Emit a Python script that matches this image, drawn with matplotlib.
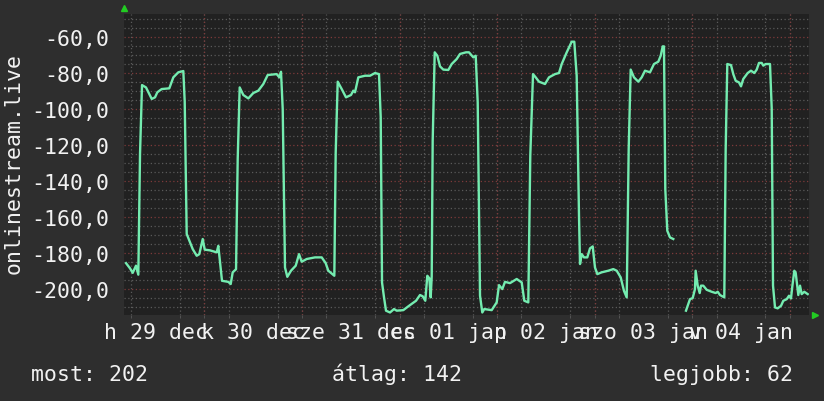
import numpy as np
import matplotlib
matplotlib.use("Agg")
import matplotlib.pyplot as plt
from matplotlib.ticker import MultipleLocator, FixedLocator

# hours since 2014-12-29 00:00, value
hours = [4.75, 5.73, 6.39, 7.2, 7.77, 8.19, 8.68, 9.66, 11.07, 11.88, 12.44, 13.52, 15.39, 16.38,
         17.61, 18.84, 19.18, 19.67, 20.48, 21.15, 22.13, 22.77, 23.61, 24.1, 25.4, 27.05, 27.44,
         27.86, 28.35, 29.9, 30.49, 30.98, 31.8, 32.21, 32.7, 33.59, 34.82, 36.05, 37.28, 38.51,
         39.59, 41.8, 42.44, 42.86, 43.28, 43.84, 44.41, 45.32, 46.48, 47.29, 47.95, 49.18, 51.22,
         52.87, 53.85, 54.49, 55.48, 55.97, 56.31, 56.8, 57.79, 58.84, 60.07, 60.64, 61.06, 61.87,
         63.52, 64.75, 65.98, 66.96, 67.38, 67.7, 68.19, 68.68, 69.66, 70.65, 71.31, 72.93, 74.58,
         76.06, 77.04, 77.7, 78.34, 78.84, 79.33, 79.67, 79.92, 80.16, 80.66, 81.3, 81.96, 82.77,
         84.0, 84.84, 86.07, 86.88, 88.35, 89.09, 90.15, 90.74, 91.23, 91.8, 92.36, 92.85, 94.67,
         95.9, 96.47, 97.28, 97.94, 99.17, 100.82, 102.05, 102.69, 103.67, 104.16, 104.83, 105.49,
         106.3, 107.78, 108.76, 110.24, 111.22, 111.89, 113.12, 114.35, 114.98, 115.57, 116.14,
         116.39, 116.8, 117.37, 118.18, 118.84, 119.51, 120.07, 120.64, 121.72, 123.34, 124.57,
         125.41, 126.39, 127.2, 127.87, 128.36, 128.85, 129.66, 130.72, 131.56, 132.37, 133.6,
         134.58, 135.64, 136.23, 136.72, 137.04, 137.36, 137.85, 138.52, 139.33, 140.9,
         142.45, 143.43, 144.1, 144.66, 144.83, 145.33, 145.82, 146.14, 146.7, 147.54, 148.77,
         149.75, 150.25, 150.81, 151.87, 152.21, 152.61, 153.52, 154.08, 154.67, 155.48, 155.98,
         156.54, 157.62, 158.43, 159.25, 159.84, 160.4, 161.07, 161.46, 162.05, 163.11, 163.53,
         163.85, 164.34, 165.0, 165.82, 166.38, 167.22, 167.78, 168.27, 168.6, 169.09, 169.43,
         169.75, 170.07, 170.49, 170.9, 171.54, 172.38]
values = [-185.6, -188.5, -191, -187, -192, -125, -86.7, -88, -94.4, -93.5, -90.7, -88.9, -88.5,
          -82.4, -79.6, -78.9, -95.9, -169.4, -174, -177.8, -181.5, -180.6, -172.2, -178.1, -178.5,
          -179.6, -176, -185.2, -195.4, -196, -197.2, -190.7, -189, -127.8, -88, -92.2, -94.1,
          -91.1, -89.8, -86.1, -81.1, -80.6, -82.4, -79.3, -100, -188, -193.2, -189.8, -187,
          -180.6, -184.8, -183.3, -182.4, -182.4, -185.6, -189.8, -191.7, -192.6, -124.1, -84.8,
          -88.9, -93.5, -92.2, -89.8, -90.7, -82.4, -81.5, -81.5, -80, -80.6, -104.6, -196.3,
          -204.6, -212, -213, -211.1, -212, -211.7, -208.9, -206.5, -203.3, -204, -206.5, -192.6,
          -194, -204.6, -193, -117.6, -68.5, -70.4, -76.3, -78.1, -78.3, -75, -72.2, -69.4, -68.5,
          -68.5, -71.3, -70.4, -96.3, -203.7, -213, -211.1, -211.7, -207.4, -197.8, -200, -196,
          -196.7, -194.4, -196.3, -206.5, -207.4, -126, -80.6, -82.4, -84.8, -86.1, -82.4, -80.6,
          -80, -75, -68.5, -62.6, -62.6, -81.5, -159.3, -186.1, -180.6, -182.4, -182.4, -177.4,
          -176.3, -188, -191.7, -190.7, -189.8, -188.9, -189.8, -193.5, -201, -204.6, -122.2,
          -78.1, -82.4, -84.8, -82.4, -78.7, -79.6, -75, -73.7, -70.4, -65.2, -65.2, -144.4,
          -167.6, -171.3, -172.2, np.nan,
          -212, -205.6, -205, -200, -189.8, -198.1, -202.2, -198.1, -198.1, -200.4, -201.5,
          -202.2, -201.5, -203.3, -204.6, -122.2, -75, -75.6, -80.6, -84.3, -85.2, -87.4, -83.3,
          -80, -78.7, -80, -78.1, -74.4, -74.4, -75.9, -75, -75, -99.6, -198.1, -210.2, -210.7,
          -209.3, -206.5, -205.6, -203.7, -205.2, -198.5, -189.8, -191, -197.2, -203.3, -198.1,
          -202.8, -201.5, -202.8]

day_labels = ["h 29 dec", "k 30 dec", "sze 31 dec", "cs 01 jan", "p 02 jan", "szo 03 jan", "v 04 jan"]
ylabel = "onlinestream.live"
most, atlag, legjobb = 202, 142, 62

BG = "#2e2e2e"
CANVAS = "#212121"
FG = "#f2f2f2"
LINE = "#74ecb0"
GRID = "#5a5a5a"
MGRID = "#7d3a3a"
FONT = "DejaVu Sans Mono"
FS = 15.5

fig = plt.figure(figsize=(8.24, 4.02), dpi=100, facecolor=BG)
ax = fig.add_axes([124 / 824, 1 - 316 / 402, 685 / 824, (316 - 14.7) / 402])
ax.set_facecolor(CANVAS)

ax.set_xlim(4.25, 172.7)
ax.set_ylim(-214.4, -47.05)

# minor grid every 6h / 5 units, major every day / 20 units
ax.xaxis.set_minor_locator(MultipleLocator(6))
ax.yaxis.set_minor_locator(MultipleLocator(5))
ax.yaxis.set_major_locator(MultipleLocator(20))
ax.grid(which="minor", color=GRID, linestyle=(0, (1, 2)), linewidth=0.9)
ax.yaxis.grid(which="major", color=MGRID, linestyle=(0, (1, 2)), linewidth=0.9)
for m in np.arange(24, 172, 24):
    ax.axvline(m, color=MGRID, linestyle=(0, (1, 2)), linewidth=0.9, zorder=1)
ax.set_axisbelow(True)

ax.set_xticks(np.arange(12, 172, 24)[:len(day_labels)])
ax.set_xticklabels(day_labels)
ax.yaxis.set_major_formatter(lambda v, p: f"{v:.1f}".replace(".", ","))

ax.tick_params(axis="x", which="major", length=0, pad=5.4, labelcolor=FG, labelsize=FS)
ax.tick_params(axis="y", which="major", length=0, pad=10.8, labelcolor=FG, labelsize=FS)
ax.tick_params(axis="x", which="minor", length=2, color=GRID)
ax.tick_params(axis="y", which="minor", length=0)
for lab in ax.get_xticklabels() + ax.get_yticklabels():
    lab.set_family(FONT)

for s in ax.spines.values():
    s.set_visible(False)

ax.plot(hours, values, color=LINE, linewidth=1.7, zorder=3)

# axis arrows
ax.plot([0], [1.02], marker="^", color="#22cc22", markersize=5, transform=ax.transAxes, clip_on=False)
ax.plot([1.009], [0.0], marker=">", color="#22cc22", markersize=5, transform=ax.transAxes, clip_on=False)

fig.text(23.5 / 824, 1 - 164 / 402, ylabel, rotation=90, ha="right", va="center",
         color=FG, family=FONT, fontsize=FS)

fig.text(31 / 824, 1 - 381.5 / 402, f"most: {most}", ha="left", va="baseline",
         color=FG, family=FONT, fontsize=FS)
fig.text(332 / 824, 1 - 381.5 / 402, f"átlag: {atlag}", ha="left", va="baseline",
         color=FG, family=FONT, fontsize=FS)
fig.text(793 / 824, 1 - 381.5 / 402, f"legjobb: {legjobb}", ha="right", va="baseline",
         color=FG, family=FONT, fontsize=FS)

fig.savefig("out.png", dpi=100, facecolor=BG)
